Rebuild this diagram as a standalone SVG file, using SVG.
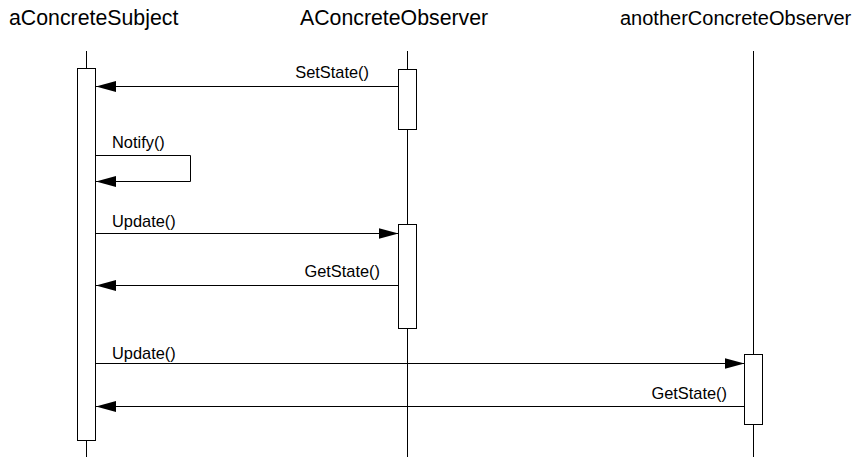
<svg xmlns="http://www.w3.org/2000/svg" width="857" height="457" viewBox="0 0 857 457">
<style>
.hdr{font-family:"Liberation Sans",Arial,sans-serif;font-size:21.3px;fill:#000}
.lbl{font-family:"Liberation Sans",Arial,sans-serif;font-size:16.4px;fill:#000}
.life{stroke:#000;stroke-width:1;fill:none}
.act{stroke:#000;stroke-width:1;fill:#fff}
.msg{stroke:#000;stroke-width:1;fill:none;marker-end:url(#ah)}
</style>
<defs>
<marker id="ah" markerUnits="userSpaceOnUse" markerWidth="20" markerHeight="11" refX="20" refY="5.5" orient="auto">
<path d="M0,0 L20,5.5 L0,11 z" fill="#000"/>
</marker>
</defs>
<rect width="857" height="457" fill="#fff"/>
<g id="aConcreteSubject">
<text class="hdr" x="9" y="25">aConcreteSubject</text>
<line class="life" x1="86.5" y1="51" x2="86.5" y2="457"/>
<rect class="act" x="77.5" y="68.5" width="18" height="372"/>
</g>
<g id="AConcreteObserver">
<text class="hdr" x="300" y="25">AConcreteObserver</text>
<line class="life" x1="407.5" y1="51" x2="407.5" y2="457"/>
<rect class="act" x="398.5" y="69.5" width="18" height="60"/>
<rect class="act" x="398.5" y="224.5" width="18" height="104"/>
</g>
<g id="anotherConcreteObserver">
<text class="hdr" x="620" y="25" style="font-size:20px">anotherConcreteObserver</text>
<line class="life" x1="753.5" y1="51" x2="753.5" y2="457"/>
<rect class="act" x="744.5" y="354.5" width="18" height="70"/>
</g>
<g id="connectors">
<line class="msg" x1="398.5" y1="86.5" x2="96" y2="86.5"/>
<text class="lbl" x="369" y="78" text-anchor="end">SetState()</text>
<polyline class="msg" points="96,155.5 190.5,155.5 190.5,181.5 96,181.5"/>
<text class="lbl" x="112" y="148.3">Notify()</text>
<line class="msg" x1="96" y1="233.5" x2="398.5" y2="233.5"/>
<text class="lbl" x="112" y="227">Update()</text>
<line class="msg" x1="398.5" y1="285.5" x2="96" y2="285.5"/>
<text class="lbl" x="380" y="277.3" text-anchor="end">GetState()</text>
<line class="msg" x1="96" y1="363.5" x2="744.5" y2="363.5"/>
<text class="lbl" x="112" y="358.5">Update()</text>
<line class="msg" x1="744.5" y1="406.5" x2="96" y2="406.5"/>
<text class="lbl" x="727" y="399" text-anchor="end">GetState()</text>
</g>
</svg>
